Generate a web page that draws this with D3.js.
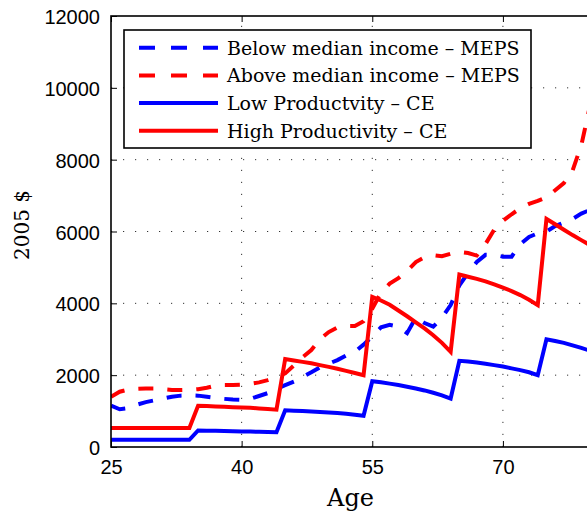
<!DOCTYPE html>
<html><head><meta charset="utf-8">
<script src="https://cdn.jsdelivr.net/npm/d3@7"></script>
<style>html,body{margin:0;padding:0;overflow:hidden;background:#fff}</style>
</head><body><svg id="c" width="587" height="514"></svg>
<script>
const ages=[25,26,27,28,29,30,31,32,33,34,35,36,37,38,39,40,41,42,43,44,45,46,47,48,49,50,51,52,53,54,55,56,57,58,59,60,61,62,63,64,65,66,67,68,69,70,71,72,73,74,75,76,77,78,79,80];
const belowMEPS=[1150,1050,1080,1180,1250,1300,1350,1400,1430,1440,1430,1400,1370,1340,1320,1310,1340,1420,1500,1620,1720,1820,1950,2080,2220,2320,2420,2550,2650,2850,3080,3330,3400,3350,3170,3600,3450,3350,3600,3950,4500,4850,5150,5350,5350,5300,5300,5650,5850,5950,6000,6150,6250,6350,6500,6600];
const aboveMEPS=[1400,1540,1600,1620,1630,1630,1610,1590,1585,1590,1610,1650,1710,1725,1725,1735,1760,1800,1860,1940,2050,2270,2500,2700,3000,3200,3330,3370,3370,3500,3850,4300,4550,4700,4900,5150,5280,5340,5310,5380,5430,5400,5330,5650,6050,6300,6480,6650,6770,6850,6950,7150,7350,7700,8400,9500];
const lowCE=[200,200,200,200,200,200,200,200,200,200,460,455,450,445,440,435,430,425,420,410,1020,1010,1000,990,975,960,945,925,900,870,1830,1800,1765,1725,1680,1630,1575,1510,1440,1350,2400,2380,2350,2320,2280,2240,2190,2140,2080,2000,3000,2950,2900,2830,2760,2680];
const highCE=[530,530,530,530,530,530,530,530,530,530,1150,1140,1130,1120,1110,1100,1090,1075,1060,1040,2450,2410,2370,2330,2280,2230,2180,2120,2060,2000,4180,4080,3960,3800,3640,3470,3300,3110,2900,2650,4800,4740,4680,4610,4530,4440,4340,4230,4100,3950,6350,6200,6050,5900,5760,5620];
const xTicks=[25,40,55,70];
const yTicks=[0,2000,4000,6000,8000,10000,12000];
const legendLabels=["Below median income \u2013 MEPS","Above median income \u2013 MEPS","Low Productvity \u2013 CE","High Productivity \u2013 CE"];
const seriesColors=["#0000ff","#ff0000","#0000ff","#ff0000"];
const seriesDashed=[true,true,false,false];
const seriesData=[belowMEPS,aboveMEPS,lowCE,highCE];

const svg=d3.select("#c");
const L=111,R=590,T=16,B=447;
const x=d3.scaleLinear().domain([25,80]).range([L,R]);
const y=d3.scaleLinear().domain([0,12000]).range([B,T]);

// grid
const grid=svg.append("g").attr("stroke","#333").attr("stroke-width",1).attr("stroke-dasharray","1.2,10.8");
grid.selectAll("line.v").data(xTicks.filter(t=>t!==25)).enter().append("line")
  .attr("x1",d=>x(d)).attr("x2",d=>x(d)).attr("y1",B).attr("y2",T);
grid.selectAll("line.h").data(yTicks.filter(t=>t!==0&&t!==12000)).enter().append("line")
  .attr("x1",L).attr("x2",R).attr("y1",d=>y(d)).attr("y2",d=>y(d));

// lines
svg.append("clipPath").attr("id","clip").append("rect").attr("x",L).attr("y",T).attr("width",R-L).attr("height",B-T);
const line=d3.line().x((d,i)=>x(ages[i])).y(d=>y(d));
const lg=svg.append("g").attr("clip-path","url(#clip)");
seriesData.forEach((s,k)=>{
  lg.append("path").datum(s).attr("d",line).attr("fill","none")
    .attr("stroke",seriesColors[k]).attr("stroke-width",4)
    .attr("stroke-linejoin","miter").attr("stroke-dasharray",seriesDashed[k]?"15,14":null);
});

// axes
const yAx=svg.append("g").attr("transform",`translate(${L},0)`)
  .call(d3.axisLeft(y).tickValues(yTicks).tickSizeInner(-6).tickSizeOuter(0).tickPadding(11).tickFormat(d3.format("d")));
const xAx=svg.append("g").attr("transform",`translate(0,${B})`)
  .call(d3.axisBottom(x).tickValues(xTicks).tickSizeInner(-6).tickSizeOuter(0).tickPadding(13).tickFormat(d3.format("d")));
const xTop=svg.append("g").attr("transform",`translate(0,${T})`)
  .call(d3.axisTop(x).tickValues(xTicks).tickSizeInner(-6).tickSizeOuter(0).tickFormat(""));
[yAx,xAx,xTop].forEach(g=>{
  g.select(".domain").remove();
  g.selectAll("line").attr("stroke","#000").attr("stroke-width",1);
  g.selectAll("text").attr("font-family","Liberation Sans, Arial, sans-serif").attr("font-size",20).attr("fill","#000");
});
yAx.selectAll("text").attr("dy","0.38em");
svg.append("rect").attr("x",L).attr("y",T).attr("width",R-L).attr("height",B-T)
  .attr("fill","none").attr("stroke","#000").attr("stroke-width",1.6);

// axis labels
svg.append("text").attr("x",(L+R)/2).attr("y",506).attr("text-anchor","middle")
  .attr("font-family","DejaVu Serif, serif").attr("font-size",24).text("Age");
svg.append("text").attr("transform","translate(29,225) rotate(-90)").attr("text-anchor","middle")
  .attr("font-family","DejaVu Serif, serif").attr("font-size",20).text("2005 $");

// legend
const leg=svg.append("g");
leg.append("rect").attr("x",124).attr("y",30).attr("width",407).attr("height",118)
  .attr("fill","#fff").attr("stroke","#000").attr("stroke-width",1.6);
legendLabels.forEach((t,k)=>{
  const ry=47.7+k*27.7;
  leg.append("line").attr("x1",139).attr("x2",218).attr("y1",ry).attr("y2",ry)
    .attr("stroke",seriesColors[k]).attr("stroke-width",4)
    .attr("stroke-dasharray",seriesDashed[k]?"16,16":null);
  leg.append("text").attr("x",227).attr("y",ry+7).attr("font-family","DejaVu Serif, serif")
    .attr("font-size",19).text(t);
});
</script></body></html>
